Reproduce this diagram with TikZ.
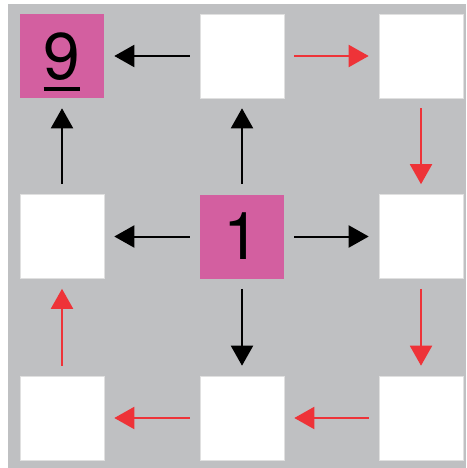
\documentclass[tikz,border=0pt]{standalone}
\usepackage{fontspec}
\setmainfont{TeX Gyre Heros}
\usetikzlibrary{arrows.meta}
\definecolor{boardgray}{HTML}{BFC0C2}
\definecolor{cellpink}{HTML}{D35FA0}
\definecolor{pathred}{HTML}{EE3338}
\newcommand{\cellul}[1]{\leavevmode\vtop{\hbox{#1}\kern7pt\hrule height 4pt}}
\tikzset{
  cell/.style={rectangle,minimum size=84pt,inner sep=0pt,fill=white,draw=black!12,line width=0.6pt},
  marked/.style={cell,fill=cellpink,draw=none,font=\fontsize{66}{66}\selectfont,text depth=0pt},
  move/.style={line width=2pt,-{Triangle[length=20pt,width=22pt]},shorten <=10pt,shorten >=10pt},
  walk/.style={move,pathred,draw=pathred}
}
\begin{document}
\begin{tikzpicture}[x=1pt,y=-1pt]
        % Draw the board
        \useasboundingbox (0,0) rectangle (466,468);
        \fill[boardgray] (8,4) rectangle (466,468);

        % Draw the cells
        \node[marked] (nine) at (62,56) {\cellul{9}};
        \node[cell] (topmid) at (242,56) {};
        \node[cell] (topright) at (421,56) {};
        \node[cell] (midleft) at (62,236.5) {};
        \node[marked] (one) at (242,236.5) {1};
        \node[cell] (midright) at (421,236.5) {};
        \node[cell] (botleft) at (62,418) {};
        \node[cell] (botmid) at (242,418) {};
        \node[cell] (botright) at (421,418) {};

        % Draw the moves out of the centre
        \draw[move] (one) -- (topmid);
        \draw[move] (one) -- (midleft);
        \draw[move] (one) -- (midright);
        \draw[move] (one) -- (botmid);
        \draw[move] (topmid) -- (nine);
        \draw[move] (midleft) -- (nine);

        % Draw the walk round the edge
        \draw[walk] (topmid) -- (topright);
        \draw[walk] (topright) -- (midright);
        \draw[walk] (midright) -- (botright);
        \draw[walk] (botright) -- (botmid);
        \draw[walk] (botmid) -- (botleft);
        \draw[walk] (botleft) -- (midleft);
    \end{tikzpicture}
\end{document}
